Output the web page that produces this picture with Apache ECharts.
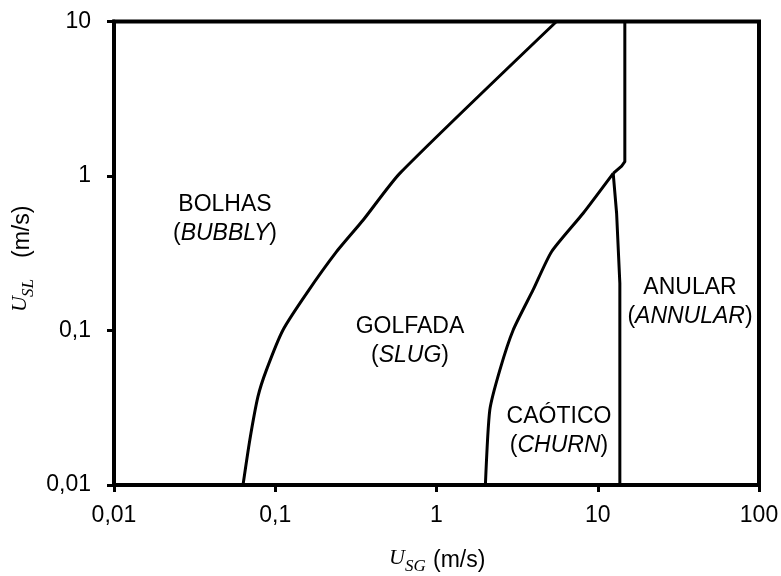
<!DOCTYPE html>
<html>
<head>
<meta charset="utf-8">
<script src="https://cdn.jsdelivr.net/npm/echarts@6/dist/echarts.min.js"></script>
<style>
  html, body { margin: 0; padding: 0; background: #fff; }
  #chart { width: 781px; height: 576px; }
</style>
</head>
<body>
<div id="chart"></div>
<script>
// Axis ticks and their printed labels (decimal comma)
const xTicks = [0.01, 0.1, 1, 10, 100];
const xTickLabels = ['0,01', '0,1', '1', '10', '100'];
const yTicks = [0.01, 0.1, 1, 10];
const yTickLabels = ['0,01', '0,1', '1', '10'];

// Bubbly -> slug transition (U_SG, U_SL in m/s)
const bubblySlugUSG = [0.0631, 0.0695, 0.0781, 0.0881, 0.1117, 0.1565, 0.240, 0.351, 0.592, 5.55];
const bubblySlugUSL = [0.01, 0.0195, 0.0373, 0.0554, 0.1008, 0.174, 0.3236, 0.519, 1.04, 10];

// Slug -> churn transition
const slugChurnUSG = [2.01, 2.14, 2.47, 2.99, 3.97, 5.17, 8.12, 12.47];
const slugChurnUSL = [0.01, 0.0305, 0.0554, 0.1008, 0.183, 0.3236, 0.574, 1.04];

// Churn -> annular transition
const churnAnnularUSG = [12.47, 13.09, 13.71, 13.71];
const churnAnnularUSL = [1.04, 0.574, 0.2017, 0.01];

// Annular boundary at high liquid velocity
const annularUpperUSG = [12.47, 14.06, 14.72, 14.72];
const annularUpperUSL = [1.04, 1.16, 1.239, 10];

// Flow-regime names: [main name, english name in parentheses]
const regimeNames = [
  ['BOLHAS', 'BUBBLY'],
  ['GOLFADA', 'SLUG'],
  ['CAÓTICO', 'CHURN'],
  ['ANULAR', 'ANNULAR']
];

const SANS = '"Liberation Sans", Arial, sans-serif';
const SERIF = '"Liberation Serif", "DejaVu Serif", serif';
const FONT_PX = 23;

function zipPairs(xs, ys) {
  return xs.map((x, i) => [x, ys[i]]);
}

function tickFormatter(ticks, labels) {
  return function (v) {
    const lv = Math.log10(v);
    for (let i = 0; i < ticks.length; i++) {
      if (Math.abs(Math.log10(ticks[i]) - lv) < 1e-6) return labels[i];
    }
    return '';
  };
}

function boundary(name, xs, ys, smooth) {
  return {
    name: name,
    type: 'line',
    data: zipPairs(xs, ys),
    showSymbol: false,
    symbol: 'none',
    smooth: smooth,
    silent: true,
    lineStyle: { color: '#000', width: 3, join: 'round', cap: 'butt' },
    z: 3
  };
}

const axisCommon = {
  type: 'log',
  logBase: 10,
  splitLine: { show: false },
  minorTick: { show: false },
  minorSplitLine: { show: false },
  axisLine: { show: true, onZero: false, lineStyle: { color: '#000', width: 4 } },
  axisTick: { show: true, inside: false, length: 7, lineStyle: { color: '#000', width: 3 } }
};

// Two-line regime label: plain name, then "(italic name)"
function regimeLabel(pair, cx, cy) {
  return {
    type: 'text',
    x: cx,
    y: cy,
    silent: true,
    style: {
      text: '{n|' + pair[0] + '}\n{n|(}{i|' + pair[1] + '}{n|)}',
      align: 'center',
      verticalAlign: 'middle',
      textAlign: 'center',
      textVerticalAlign: 'middle',
      fill: '#000',
      rich: {
        n: { fontFamily: SANS, fontSize: FONT_PX, lineHeight: 29, color: '#000' },
        i: { fontFamily: SANS, fontSize: FONT_PX, fontStyle: 'italic', lineHeight: 29, color: '#000' }
      }
    }
  };
}

function plainText(str, x, y, font) {
  return {
    type: 'text',
    x: x,
    y: y,
    silent: true,
    style: {
      text: str,
      font: font,
      fill: '#000',
      align: 'left',
      verticalAlign: 'middle',
      textAlign: 'left',
      textVerticalAlign: 'middle'
    }
  };
}

const chart = echarts.init(document.getElementById('chart'), null, { renderer: 'canvas' });

chart.setOption({
  animation: false,
  backgroundColor: '#fff',
  grid: {
    left: 114,
    right: 22,
    top: 21.5,
    bottom: 91,
    show: true,
    borderColor: '#000',
    borderWidth: 4,
    backgroundColor: 'transparent',
    containLabel: false,
    outerBoundsMode: 'none'
  },
  xAxis: Object.assign({}, axisCommon, {
    min: xTicks[0],
    max: xTicks[xTicks.length - 1],
    axisLabel: {
      formatter: tickFormatter(xTicks, xTickLabels),
      color: '#000',
      fontFamily: SANS,
      fontSize: FONT_PX,
      margin: 19,
      showMinLabel: true,
      showMaxLabel: true,
      hideOverlap: false
    }
  }),
  yAxis: Object.assign({}, axisCommon, {
    min: yTicks[0],
    max: yTicks[yTicks.length - 1],
    axisLabel: {
      formatter: tickFormatter(yTicks, yTickLabels),
      color: '#000',
      fontFamily: SANS,
      fontSize: FONT_PX,
      margin: 23,
      showMinLabel: true,
      showMaxLabel: true,
      hideOverlap: false
    }
  }),
  series: [
    boundary('bubbly-slug', bubblySlugUSG, bubblySlugUSL, 0.2),
    boundary('slug-churn', slugChurnUSG, slugChurnUSL, 0.2),
    boundary('churn-annular', churnAnnularUSG, churnAnnularUSL, false),
    boundary('annular-upper', annularUpperUSG, annularUpperUSL, false)
  ],
  graphic: [
    regimeLabel(regimeNames[0], 225, 219.5),
    regimeLabel(regimeNames[1], 410, 341),
    regimeLabel(regimeNames[2], 559, 431),
    regimeLabel(regimeNames[3], 690, 302.5),
    // horizontal axis title: U_SG (m/s)
    {
      type: 'group',
      silent: true,
      children: [
        plainText('U', 389, 558.5, 'italic 22px ' + SERIF),
        plainText('SG', 405, 566.5, 'italic 17px ' + SERIF),
        plainText('(m/s)', 433, 561, FONT_PX + 'px ' + SANS)
      ]
    },
    // vertical axis title: U_SL (m/s), reading bottom to top
    {
      type: 'group',
      x: 20.5,
      y: 312,
      rotation: Math.PI / 2,
      silent: true,
      children: [
        plainText('U', 0, 0, 'italic 22px ' + SERIF),
        plainText('SL', 15, 8, 'italic 17px ' + SERIF),
        plainText('(m/s)', 54, 2.5, FONT_PX + 'px ' + SANS)
      ]
    }
  ]
});
</script>
</body>
</html>
